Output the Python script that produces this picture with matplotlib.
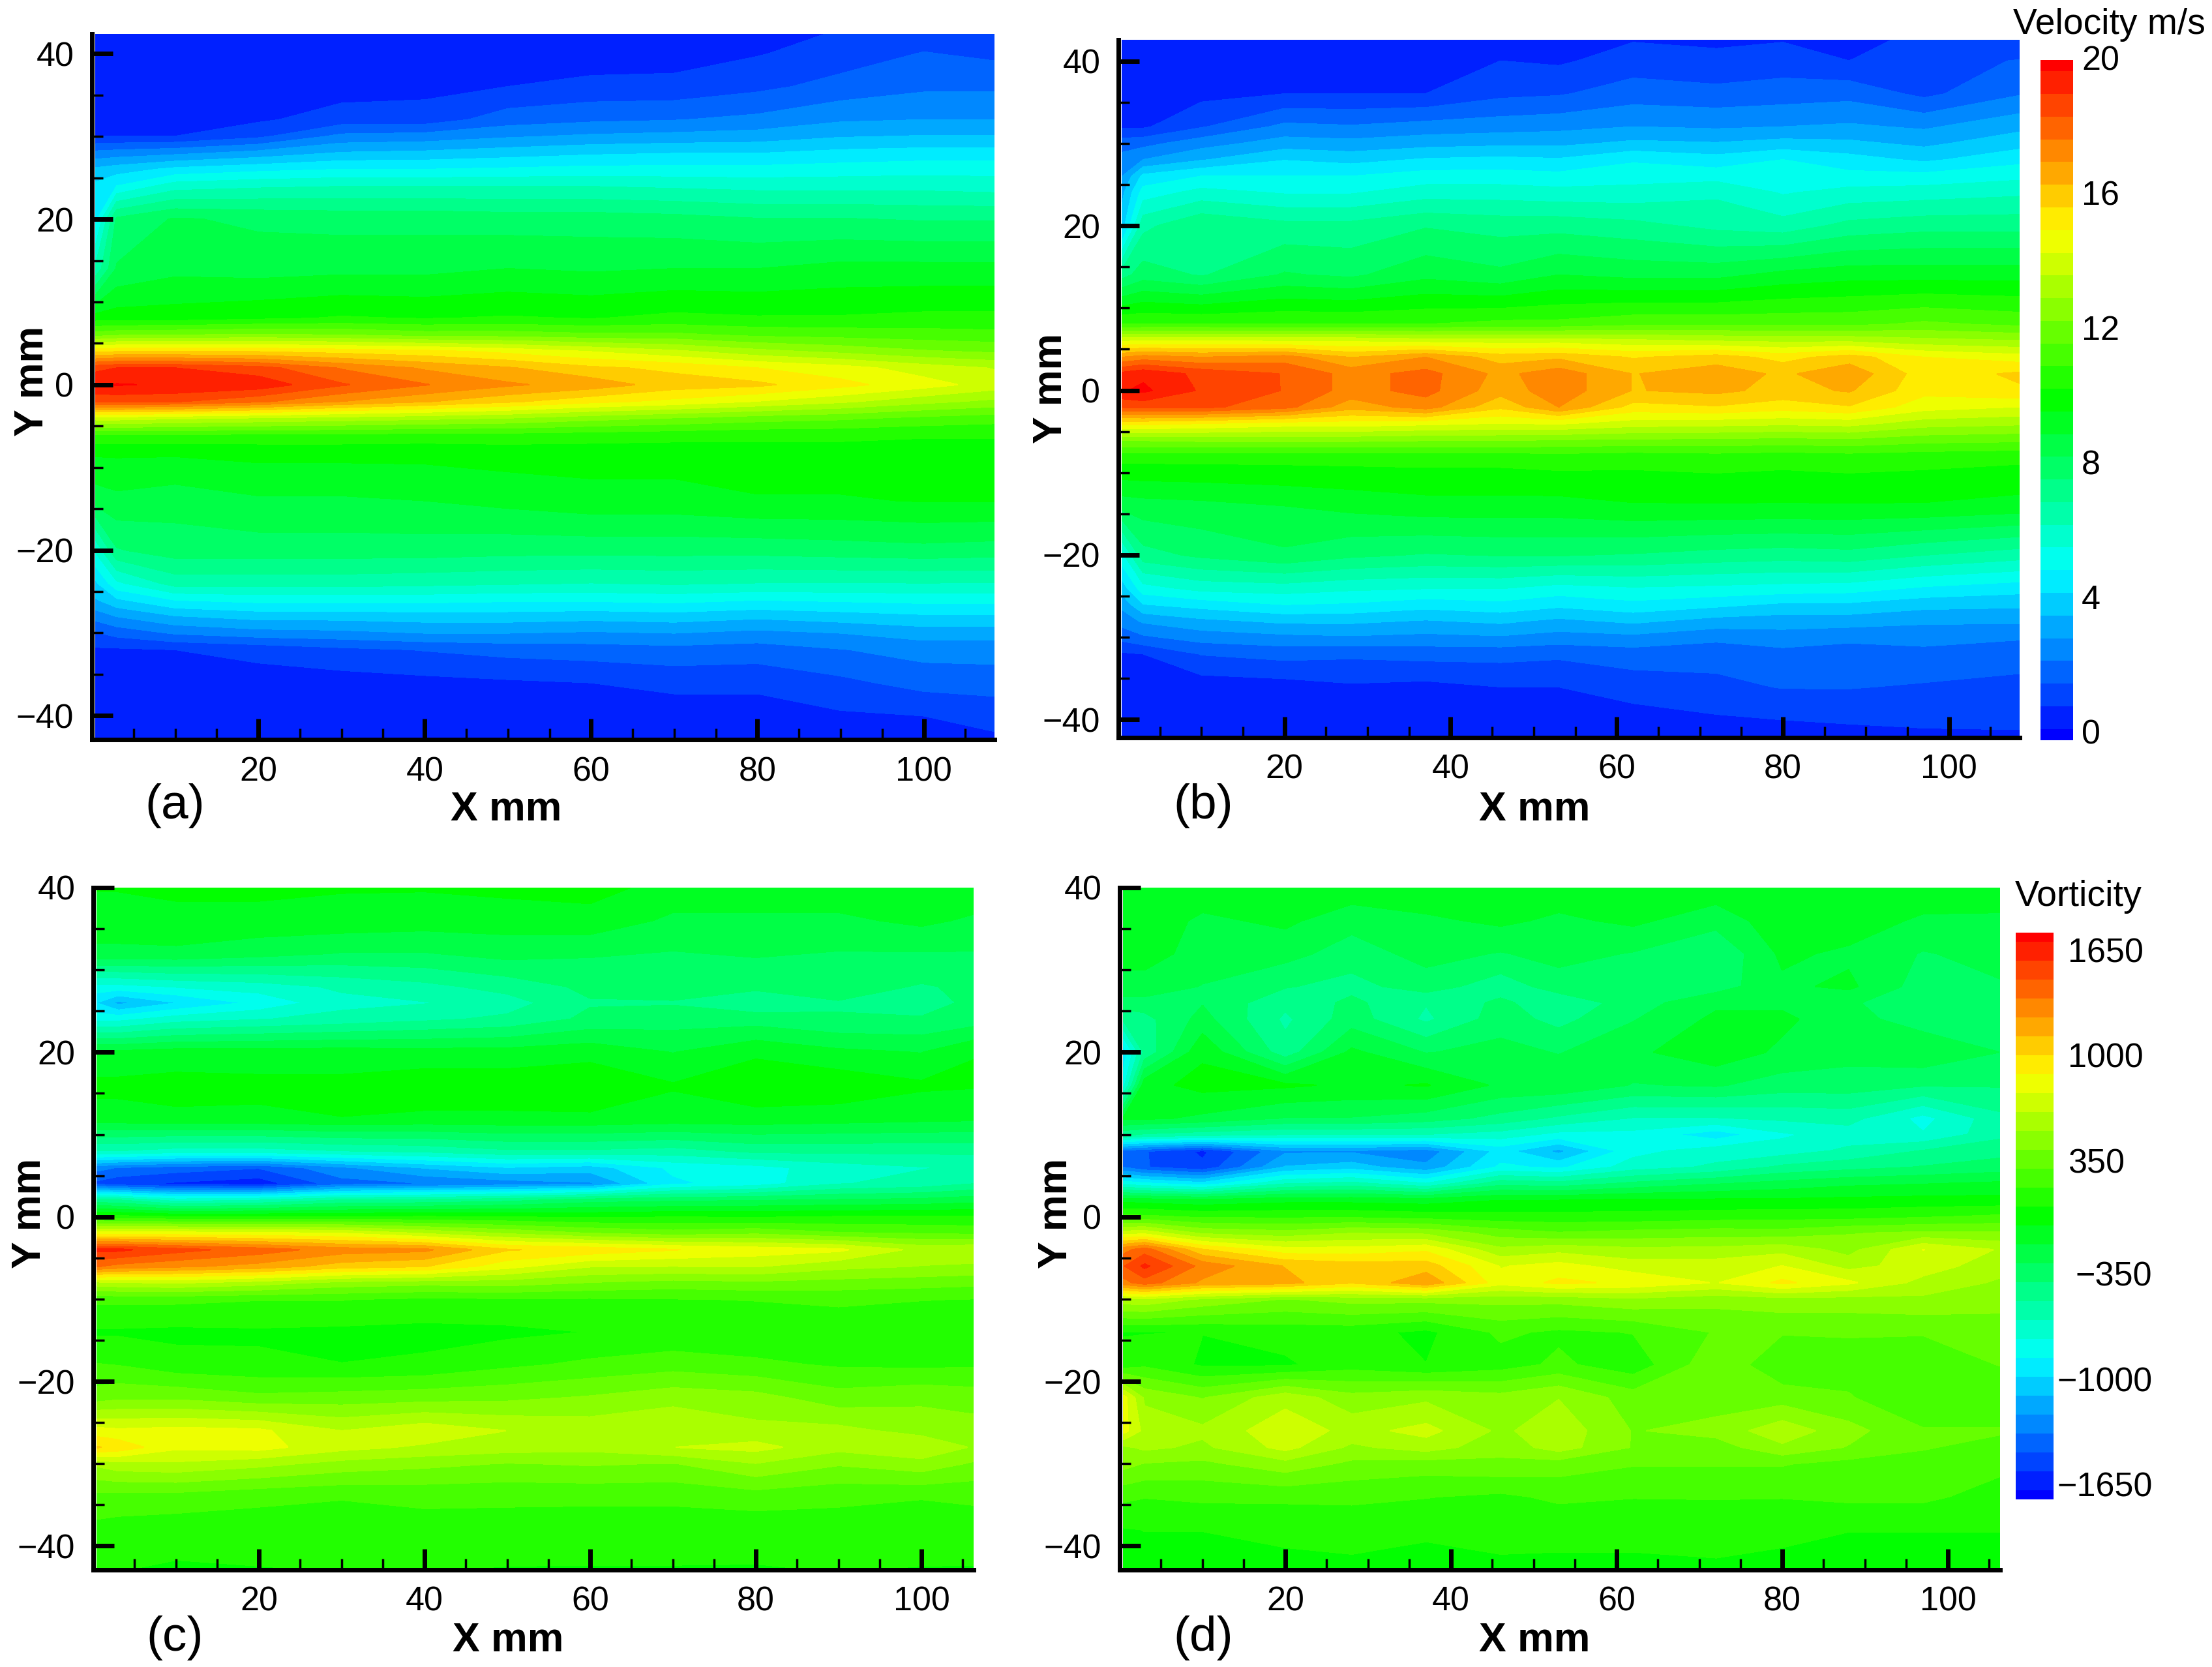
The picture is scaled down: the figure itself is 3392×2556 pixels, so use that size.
import numpy as np
import matplotlib
matplotlib.use('Agg')
import matplotlib.pyplot as plt
from matplotlib.colors import LinearSegmentedColormap, BoundaryNorm, ListedColormap
from matplotlib.ticker import MultipleLocator

plt.rcParams['font.family'] = ['Liberation Sans', 'DejaVu Sans']

W, H = 3392, 2556

# velocity stations
y_vel = [43, 40, 36, 32, 30, 28, 26, 24, 20, 14, 8, 6, 4, 2, 0, -2, -4, -6, -8, -14, -20, -24, -26, -28, -30, -32, -36, -40, -43]
x_a = [0.5, 3, 10, 20, 30, 40, 50, 60, 70, 80, 90, 100, 109]
x_b = [0.5, 3, 10, 20, 28, 37, 46, 53, 62, 72, 80, 88, 97, 109]

vel_a = [
    [.6, .6, .6, .6, .6, .6, .6, .6, .6, .7, 1.0, 1.2, 1.2],
    [.6, .6, .6, .6, .6, .6, .6, .6, .7, .95, 1.3, 1.7, 1.5],
    [.6, .6, .6, .6, .7, .8, 1.0, 1.2, 1.2, 1.5, 1.9, 2.2, 2.2],
    [.7, .7, .7, .9, 1.3, 1.3, 2.0, 2.2, 2.3, 2.5, 2.9, 3.0, 3.0],
    [1.0, 1.0, 1.0, 1.5, 2.5, 2.6, 2.9, 3.1, 3.2, 3.3, 3.6, 3.7, 3.7],
    [2.5, 2.6, 2.8, 3.2, 3.7, 3.8, 4.0, 4.2, 4.3, 4.3, 4.5, 4.6, 4.6],
    [3.8, 4.0, 4.5, 4.8, 5.0, 5.0, 5.1, 5.2, 5.2, 5.2, 5.3, 5.4, 5.4],
    [4.5, 5.0, 6.0, 6.2, 6.3, 6.3, 6.3, 6.3, 6.2, 6.1, 6.1, 6.1, 6.0],
    [4.8, 7.8, 8.4, 8.2, 8.1, 8.1, 8.0, 8.0, 7.9, 7.7, 7.7, 7.6, 7.6],
    [6.5, 8.4, 8.8, 8.7, 8.8, 8.8, 9.0, 8.9, 9.0, 9.0, 9.2, 9.2, 9.2],
    [10, 10, 10, 10.2, 10.4, 10.3, 10.4, 10.3, 10.5, 10.4, 10.4, 10.5, 10.5],
    [12, 12.2, 12.3, 12.4, 12.3, 12.0, 12.0, 11.8, 11.8, 11.5, 11.4, 11.3, 11.2],
    [15.5, 15.6, 15.6, 15.6, 15.4, 15.2, 14.8, 14.3, 13.8, 13.2, 12.8, 12.4, 12.2],
    [18.8, 19, 19, 18.6, 17.6, 16.9, 16.4, 15.8, 15.5, 15, 14.6, 14, 13.6],
    [19.6, 19.7, 19.6, 19.4, 18.4, 17.7, 17.1, 16.7, 16.0, 15.8, 15.2, 14.6, 14],
    [18.5, 18.5, 18.4, 17.8, 17, 16.4, 15.8, 15.2, 14.8, 14.3, 13.8, 13.2, 12.8],
    [14, 14, 13.8, 13.6, 13.4, 13.2, 13, 12.6, 12.3, 12, 11.8, 11.5, 11.3],
    [11, 11, 11, 10.9, 10.9, 10.8, 10.8, 10.7, 10.6, 10.5, 10.5, 10.4, 10.4],
    [9.8, 9.8, 9.8, 9.9, 9.9, 9.9, 10, 10, 10, 10.1, 10.1, 10.1, 10.1],
    [8.6, 8.8, 8.6, 8.9, 8.9, 9, 9.2, 9.4, 9.4, 9.6, 9.6, 9.7, 9.7],
    [5.8, 7.6, 8.0, 8.0, 8, 8.0, 7.9, 7.9, 7.9, 7.9, 8, 8.1, 8],
    [4.2, 5.5, 6.6, 6.6, 6.6, 6.5, 6.4, 6.3, 6.4, 6.3, 6.3, 6.3, 6.3],
    [3.6, 4.2, 5.0, 5.2, 5.2, 5.2, 5.1, 5.1, 5.2, 5.0, 5.1, 5.2, 5.2],
    [2.6, 3.0, 3.6, 3.9, 3.9, 4.0, 4.0, 3.9, 4.0, 3.8, 4, 4.2, 4.2],
    [1.6, 1.9, 2.4, 2.7, 2.8, 3, 3, 2.9, 3, 2.8, 3, 3.3, 3.3],
    [.9, .9, 1.0, 1.2, 1.5, 1.7, 1.9, 2.0, 2.1, 2.0, 2.3, 2.6, 2.6],
    [.6, .6, .6, .7, .7, .8, .9, 1, 1.2, 1.2, 1.5, 1.9, 2.0],
    [.6, .6, .6, .6, .6, .6, .6, .6, .6, .6, .9, 1.0, 1.2],
    [.6, .6, .6, .6, .6, .6, .6, .6, .6, .6, .8, .9, .9],
]

vel_b = [
    [.6, .6, .6, .6, .6, .6, .8, .6, .9, .9, .9, .8, 1.1, 1.2],
    [.6, .6, .6, .7, .7, .7, 1.0, .9, 1.3, 1.1, 1.3, 1.0, 1.5, 1.7],
    [.6, .6, .8, 1.0, 1.0, 1.0, 1.5, 1.6, 2, 1.9, 2.0, 2.1, 1.5, 2.3],
    [.9, .9, 1.6, 2.5, 2.4, 2.6, 2.7, 2.8, 3.0, 2.9, 3.0, 3.1, 2.9, 3.5],
    [2, 2.1, 2.7, 3.3, 3.2, 3.4, 3.5, 3.5, 3.8, 3.7, 3.9, 3.8, 3.5, 4.1],
    [2.6, 3.0, 3.6, 4.3, 4.1, 4.4, 4.5, 4.4, 4.9, 4.6, 5.0, 4.6, 4.2, 4.8],
    [3.0, 4.5, 5.0, 5.0, 5.0, 5.3, 5.3, 5.2, 5.4, 5.4, 5.3, 5.2, 5.2, 5.5],
    [3.5, 5.3, 5.9, 5.6, 5.6, 6.0, 6.0, 5.9, 5.9, 6.2, 5.6, 5.9, 6.0, 6.2],
    [4.0, 6.8, 7.6, 7.2, 7.2, 7.6, 7.4, 7.4, 7.2, 6.8, 6.6, 7.2, 7.4, 7.4],
    [7.4, 8.0, 7.6, 8.4, 8.2, 8.8, 8.5, 9, 8.8, 8.8, 9.2, 9.4, 9.4, 9.4],
    [11, 11, 11, 11, 11, 11, 11.2, 11.2, 11.5, 11.5, 11.5, 11.5, 11.8, 11.5],
    [14.2, 14.3, 14.3, 14.2, 14.2, 14, 14, 14, 13.8, 13.6, 13.5, 13.5, 13.2, 13],
    [17, 17.3, 17, 17.3, 16.3, 17, 16, 16.2, 15.6, 16, 15.4, 16, 15, 14.6],
    [19.2, 19.5, 18.8, 18.3, 17.4, 17.9, 16.8, 17.4, 16.3, 16.7, 16.2, 16.8, 15.3, 15.8],
    [19.6, 19.8, 18.9, 18.3, 17.4, 17.9, 16.6, 17.4, 16.3, 16.5, 16.1, 16.4, 15.2, 15.6],
    [18.4, 18.5, 18.5, 17.9, 16.6, 17.3, 15.8, 17.0, 15.4, 15.6, 15.3, 15.6, 14.6, 14.3],
    [15.2, 15.2, 15, 14.7, 14.7, 14.5, 14.3, 14.4, 14, 13.9, 13.8, 13.9, 13.3, 13.1],
    [12.4, 12.4, 12.5, 12.5, 12.5, 12.4, 12.4, 12.3, 12.2, 12.2, 12.1, 12.2, 11.9, 11.8],
    [10.6, 10.6, 10.6, 10.6, 10.6, 10.6, 10.6, 10.7, 10.6, 10.7, 10.6, 10.7, 10.6, 10.5],
    [8.6, 8.7, 8.8, 9.0, 9.2, 9.4, 9.4, 9.4, 9.6, 9.6, 9.6, 9.6, 9.6, 9.4],
    [5.5, 7.4, 7.8, 8.2, 7.8, 7.6, 7.7, 7.7, 7.6, 7.4, 7.3, 7.4, 7.0, 6.6],
    [4, 5.4, 5.9, 6, 5.8, 5.7, 5.7, 5.4, 5.6, 5.5, 5.4, 5.3, 4.9, 4.6],
    [3.2, 4.3, 4.6, 5.0, 4.9, 4.6, 4.8, 4.5, 4.8, 4.5, 4.2, 4.2, 3.9, 3.8],
    [2.6, 3.1, 3.5, 3.8, 3.8, 3.6, 3.8, 3.5, 3.8, 3.4, 3.3, 3.3, 3.1, 3.1],
    [1.9, 2.2, 2.6, 2.8, 2.9, 2.8, 2.9, 2.7, 2.8, 2.5, 2.7, 2.5, 2.6, 2.4],
    [.9, 1.0, 1.7, 1.9, 1.8, 1.9, 1.9, 1.8, 2, 1.9, 2.1, 2, 2.1, 1.9],
    [.6, .6, .6, .7, .9, .8, 1.0, 1.0, 1.3, 1.5, 1.7, 1.7, 1.6, 1.5],
    [.5, .5, .5, .5, .5, .5, .6, .6, .7, .9, 1, 1.1, 1.2, 1.2],
    [.5, .5, .5, .5, .5, .5, .5, .5, .5, .5, .5, .5, .6, .7],
]

# vorticity stations
y_c = [40, 36, 32, 28, 26, 24, 20, 16, 12, 8, 6, 4, 2, 0, -2, -4, -6, -8, -10, -14, -18, -22, -26, -28, -30, -34, -38, -43]
y_d = [40, 36, 32, 28, 26, 24, 20, 16, 12, 10, 8, 6, 4, 2, 0, -2, -4, -6, -8, -10, -14, -18, -22, -26, -28, -30, -34, -38, -43]
x_c = [0.5, 3, 10, 20, 30, 40, 50, 60, 70, 80, 90, 100, 107]
x_d = [0.5, 3, 10, 20, 28, 37, 46, 53, 62, 72, 80, 88, 97, 107]

vor_c = [
    [-50, -50, -30, -30, -50, -50, -30, -20, -100, -100, -100, -100, -100],
    [-120, -120, -100, -100, -100, -120, -120, -100, -200, -200, -200, -150, -200],
    [-200, -200, -200, -250, -300, -300, -250, -280, -300, -280, -300, -300, -300],
    [-800, -800, -750, -700, -620, -560, -480, -380, -350, -380, -350, -420, -380],
    [-1000, -1150, -1000, -850, -680, -650, -580, -420, -420, -500, -420, -450, -380],
    [-800, -800, -700, -650, -600, -550, -500, -380, -350, -350, -400, -400, -350],
    [-150, -150, -120, -120, -120, -130, -130, -100, -180, -80, -150, -180, -60],
    [-30, -30, -20, -30, -30, 10, 10, 30, -50, 20, 20, -40, -50],
    [-100, -100, -80, -80, -60, -80, -80, -80, -100, -100, -120, -140, -150],
    [-650, -650, -700, -700, -650, -620, -550, -550, -580, -500, -500, -500, -500],
    [-1300, -1350, -1400, -1450, -1250, -1100, -1000, -1050, -850, -800, -700, -650, -620],
    [-1500, -1550, -1600, -1650, -1400, -1350, -1300, -1250, -900, -820, -650, -600, -520],
    [-500, -520, -700, -650, -520, -500, -450, -350, -320, -300, -280, -260, -220],
    [100, 90, 50, 50, 50, 60, 50, 30, 50, 40, 60, 60, 60],
    [800, 800, 800, 780, 750, 620, 500, 400, 340, 380, 300, 280, 260],
    [1600, 1600, 1500, 1400, 1280, 1250, 1000, 950, 880, 820, 780, 600, 620],
    [1350, 1300, 1250, 1180, 1050, 1000, 800, 650, 640, 650, 560, 520, 500],
    [600, 620, 650, 580, 480, 450, 460, 400, 360, 380, 360, 340, 320],
    [200, 200, 200, 180, 180, 150, 160, 160, 170, 180, 200, 180, 170],
    [40, 40, 30, 40, 30, 20, 30, 60, 80, 80, 90, 60, 80],
    [180, 170, 100, 80, 60, 80, 150, 200, 240, 200, 160, 150, 160],
    [350, 380, 380, 320, 340, 360, 380, 420, 480, 450, 340, 380, 350],
    [800, 780, 800, 780, 640, 720, 640, 600, 640, 560, 560, 480, 460],
    [1000, 950, 780, 800, 680, 620, 580, 560, 640, 680, 560, 620, 500],
    [550, 600, 620, 560, 480, 440, 400, 420, 400, 520, 420, 480, 380],
    [250, 240, 240, 200, 180, 200, 200, 200, 200, 230, 200, 180, 200],
    [140, 130, 110, 120, 130, 130, 120, 110, 110, 100, 120, 120, 110],
    [60, 60, 40, 50, 60, 60, 50, 50, 50, 50, 60, 50, 50],
]

vor_d = [
    [-80, -80, -100, -80, -100, -80, -80, -100, -80, -100, -80, -80, -80, -100],
    [-100, -100, -200, -150, -250, -200, -150, -200, -150, -250, -100, -100, -200, -200],
    [-150, -150, -200, -250, -350, -250, -300, -250, -300, -400, -150, -200, -300, -250],
    [-200, -200, -300, -400, -450, -350, -480, -350, -400, -350, -200, -150, -350, -300],
    [-350, -350, -300, -500, -380, -520, -380, -500, -350, -200, -200, -280, -350, -400],
    [-500, -450, -250, -550, -350, -550, -350, -450, -300, -150, -150, -250, -350, -400],
    [-950, -500, -80, -480, -150, -300, -250, -300, -200, -100, -200, -250, -200, -300],
    [-800, -100, -20, -40, -80, -50, -200, -200, -300, -280, -350, -350, -400, -400],
    [-150, -150, -200, -300, -300, -350, -450, -550, -650, -650, -620, -600, -800, -550],
    [-500, -550, -600, -650, -650, -650, -700, -800, -800, -950, -780, -700, -750, -550],
    [-1400, -1450, -1600, -1250, -1250, -1300, -950, -1150, -800, -700, -700, -620, -520, -450],
    [-1350, -1450, -1550, -1100, -1050, -1200, -850, -900, -700, -620, -500, -450, -400, -350],
    [-800, -850, -950, -650, -600, -750, -450, -480, -380, -300, -250, -200, -180, -150],
    [-100, -120, -150, -100, -100, -120, -60, -60, -40, -40, -40, -30, -20, -20],
    [200, 200, 150, 150, 150, 120, 100, 100, 100, 120, 130, 130, 160, 200],
    [700, 720, 500, 450, 520, 500, 350, 300, 330, 350, 340, 400, 430, 420],
    [1300, 1400, 1000, 800, 800, 850, 550, 600, 550, 560, 600, 480, 760, 620],
    [1450, 1600, 1300, 1100, 1050, 1050, 750, 800, 700, 700, 760, 600, 700, 560],
    [1300, 1400, 1200, 1150, 1000, 1200, 800, 900, 850, 750, 900, 780, 600, 500],
    [600, 620, 500, 400, 450, 450, 450, 450, 500, 450, 480, 480, 500, 450],
    [50, 50, 60, 100, 100, 30, 200, 150, 180, 300, 300, 300, 300, 350],
    [100, 150, 40, 40, 120, 60, 120, 200, 100, 380, 200, 250, 220, 300],
    [800, 500, 400, 600, 450, 500, 450, 520, 350, 350, 350, 300, 200, 200],
    [800, 600, 550, 720, 600, 680, 500, 600, 400, 450, 600, 450, 300, 300],
    [500, 550, 500, 680, 500, 580, 450, 580, 400, 350, 500, 400, 300, 250],
    [450, 400, 380, 480, 380, 350, 380, 350, 300, 300, 300, 250, 250, 200],
    [200, 180, 200, 200, 200, 180, 150, 200, 180, 180, 180, 200, 200, 120],
    [50, 60, 60, 80, 100, 70, 100, 80, 80, 120, 80, 60, 60, 60],
    [20, 20, 20, 30, 30, 30, 30, 40, 40, 30, 30, 30, 30, 30],
]

vel_ticks = [0, 4, 8, 12, 16, 20]
vor_ticks = [-1650, -1000, -350, 350, 1000, 1650]

rainbow = LinearSegmentedColormap.from_list('small_rainbow', ['#0000ff', '#00ffff', '#00ff00', '#ffff00', '#ff0000'])


def band_style(low, high, n):
    step = (high - low) / n
    levels = np.linspace(low - step / 2, high + step / 2, n + 2)
    cols = rainbow(np.linspace(0, 1, n + 1))
    return levels, ListedColormap(cols), BoundaryNorm(levels, n + 1)


def px_axes(left, right, top, bottom):
    return fig.add_axes([left / W, 1 - bottom / H, (right - left) / W, (bottom - top) / H])


def panel(box, x, y, z, levels, cmap, norm, xlim, ylim, letter, letter_xy, xlab_xy, ylab_xy):
    ax = px_axes(*box)
    cf = ax.contourf(x, y, np.array(z), levels=levels, cmap=cmap, norm=norm)
    cf.set_edgecolor('face')
    ax.set_xlim(*xlim)
    ax.set_ylim(*ylim)
    ax.spines['top'].set_visible(False)
    ax.spines['right'].set_visible(False)
    ax.spines['left'].set_linewidth(5)
    ax.spines['bottom'].set_linewidth(5)
    ax.set_xticks([20, 40, 60, 80, 100])
    ax.set_yticks([-40, -20, 0, 20, 40])
    ax.xaxis.set_minor_locator(MultipleLocator(5))
    ax.yaxis.set_minor_locator(MultipleLocator(5))
    ax.tick_params(which='major', direction='in', length=23, width=5, labelsize=37.5)
    ax.tick_params(which='minor', direction='in', length=12, width=2.5)
    ax.tick_params(axis='x', which='major', pad=18)
    ax.tick_params(axis='y', which='major', pad=20)
    fig.text(letter_xy[0] / W, 1 - letter_xy[1] / H, letter, fontsize=54, ha='center', va='center')
    fig.text(xlab_xy[0] / W, 1 - xlab_xy[1] / H, 'X mm', fontsize=45, fontweight='bold', ha='center', va='center')
    fig.text(ylab_xy[0] / W, 1 - ylab_xy[1] / H, 'Y mm', fontsize=45, fontweight='bold', rotation=90, ha='center', va='center')
    return cf


fig = plt.figure(figsize=(W / 100, H / 100), dpi=100)

vel_levels, vel_cmap, vel_norm = band_style(0, 20, 30)
vor_levels, vor_cmap, vor_norm = band_style(-1750, 1750, 30)

cf_a = panel((141, 1525, 52, 1134), x_a, y_vel, vel_a, vel_levels, vel_cmap, vel_norm, (0, 108.5), (-42.9, 42.4),
             '(a)', (268, 1235), (776, 1241), (50, 584))
cf_b = panel((1715, 3097, 61, 1131), x_b, y_vel, vel_b, vel_levels, vel_cmap, vel_norm, (0, 108.5), (-42.2, 42.6),
             '(b)', (1845, 1235), (2353, 1241), (1612, 595))
cf_c = panel((143, 1493, 1361, 2407), x_c, y_c, vor_c, vor_levels, vor_cmap, vor_norm, (0, 106.3), (-42.9, 39.9),
             '(c)', (268, 2511), (779, 2515), (46, 1860))
cf_d = panel((1717, 3067, 1361, 2407), x_d, y_d, vor_d, vor_levels, vor_cmap, vor_norm, (0, 106.3), (-42.9, 39.9),
             '(d)', (1845, 2511), (2353, 2515), (1620, 1860))

# colour bars
cax1 = px_axes(3129, 3179, 92, 1135)
cb1 = fig.colorbar(cf_b, cax=cax1, ticks=[])
cb1.outline.set_visible(False)
cb1.ax.minorticks_off()
cax1.set_ylim(0, 20)
for v in vel_ticks:
    cax1.annotate(str(v), xy=(1, v * 0.99 + 0.16), xycoords=cax1.get_yaxis_transform(), xytext=(9.5, 0),
                  textcoords='offset points', fontsize=37.5, ha='left', va='center')
fig.text(3234 / W, 1 - 38 / H, 'Velocity m/s', fontsize=39.7, ha='center', va='center')

cax2 = px_axes(3091, 3149, 1430, 2299)
cb2 = fig.colorbar(cf_d, cax=cax2, ticks=[])
cb2.outline.set_visible(False)
cb2.ax.minorticks_off()
cax2.set_ylim(-1750, 1750)
for v in vor_ticks:
    if v > 0:
        cax2.annotate(str(v), xy=(1, v - 28), xycoords=cax2.get_yaxis_transform(), xytext=(16, 0),
                      textcoords='offset points', fontsize=37.5, ha='left', va='center')
    else:
        cax2.annotate('\u2212' + str(-v), xy=(1, v - 28), xycoords=cax2.get_yaxis_transform(), xytext=(109, 0),
                      textcoords='offset points', fontsize=37.5, ha='right', va='center')
fig.text(3187 / W, 1 - 1375 / H, 'Vorticity', fontsize=40, ha='center', va='center')

fig.savefig('out.png', dpi=100)
